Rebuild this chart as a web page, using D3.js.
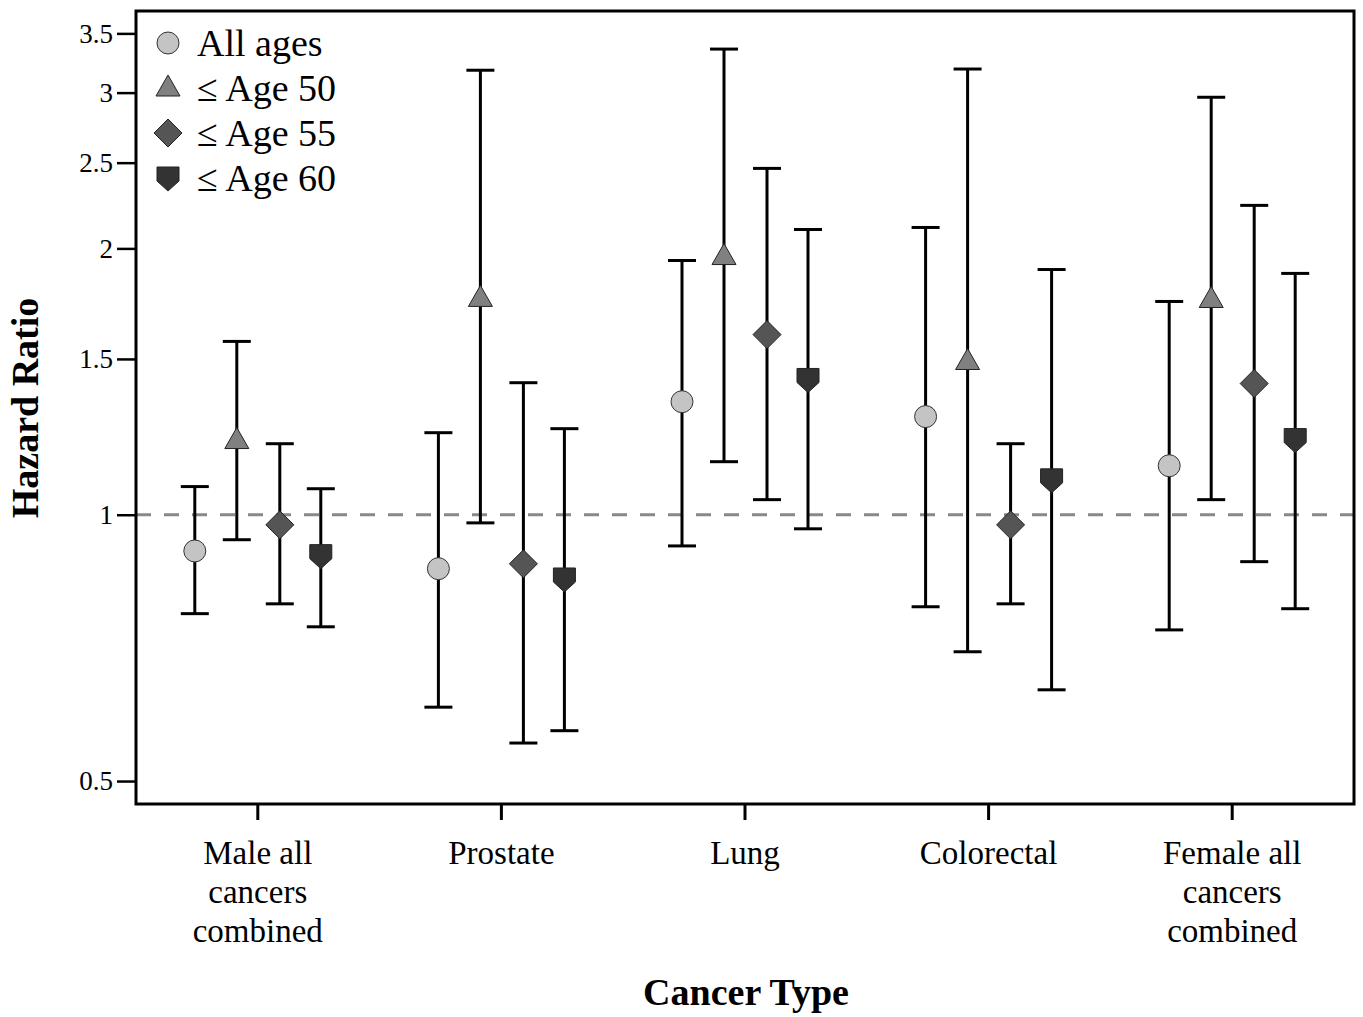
<!DOCTYPE html>
<html>
<head>
<meta charset="utf-8">
<script src="https://cdn.jsdelivr.net/npm/d3@7"></script>
<style>
  body { margin: 0; background: #fff; }
  text { font-family: "Liberation Serif", "Times New Roman", serif; fill: #000; }
</style>
</head>
<body>
<div id="chart"></div>
<script>
// categories and series
var categories = ["Male all cancers combined", "Prostate", "Lung", "Colorectal", "Female all cancers combined"];
var categoryLines = [["Male all", "cancers", "combined"], ["Prostate"], ["Lung"], ["Colorectal"], ["Female all", "cancers", "combined"]];
var seriesNames = ["All ages", "\u2264 Age 50", "\u2264 Age 55", "\u2264 Age 60"];

// hazard ratio point estimates, per series, per category
var hrAll   = [0.910, 0.869, 1.342, 1.291, 1.136];
var hr50    = [1.213, 1.756, 1.958, 1.490, 1.751];
var hr55    = [0.974, 0.880, 1.598, 0.974, 1.407];
var hr60    = [0.899, 0.846, 1.422, 1.095, 1.216];
// lower / upper confidence limits
var loAll = [0.773, 0.606, 0.922, 0.787, 0.741];
var upAll = [1.076, 1.238, 1.938, 2.112, 1.742];
var lo50  = [0.937, 0.979, 1.148, 0.700, 1.040];
var up50  = [1.570, 3.180, 3.360, 3.190, 2.964];
var lo55  = [0.793, 0.552, 1.040, 0.793, 0.885];
var up55  = [1.203, 1.410, 2.463, 1.203, 2.237];
var lo60  = [0.747, 0.570, 0.964, 0.634, 0.783];
var up60  = [1.070, 1.251, 2.101, 1.893, 1.874];

var yTicks = [0.5, 1, 1.5, 2, 2.5, 3, 3.5];

var svgWidth = 1363;
var svgHeight = 1017;
var margin = { top: 11, right: 10, bottom: 213, left: 136 };
var width = 1354 - margin.left;
var height = 804 - margin.top;

var svg = d3.select("#chart")
    .append("svg")
    .attr("width", svgWidth)
    .attr("height", svgHeight);

var chartGroup = svg.append("g")
    .attr("transform", `translate(${margin.left}, ${margin.top})`);

// scales
var xScale = d3.scaleBand()
    .domain(categories)
    .range([0, width]);
var offsets = [-63, -21, 22, 63];

var yScale = d3.scaleLog()
    .domain([0.471, 3.71])
    .range([height, 0]);

// reference line at HR = 1
chartGroup.append("line")
    .attr("x1", 0)
    .attr("x2", width)
    .attr("y1", yScale(1))
    .attr("y2", yScale(1))
    .attr("stroke", "#888")
    .attr("stroke-width", 3)
    .attr("stroke-dasharray", "15,13");

// build data rows
var styles = [
    { fill: "#c4c4c4", shape: "circle" },
    { fill: "#808080", shape: "triangle" },
    { fill: "#555555", shape: "diamond" },
    { fill: "#333333", shape: "shield" }
];
var hrs = [hrAll, hr50, hr55, hr60];
var los = [loAll, lo50, lo55, lo60];
var ups = [upAll, up50, up55, up60];

var rows = [];
categories.forEach(function (c, ci) {
    seriesNames.forEach(function (s, si) {
        rows.push({ cat: c, s: si, hr: hrs[si][ci], lo: los[si][ci], up: ups[si][ci] });
    });
});

function cx(d) { return xScale(d.cat) + xScale.bandwidth() / 2 + offsets[d.s]; }

function markerPath(shape) {
    if (shape === "triangle") return "M0,-13L12,8L-12,8Z";
    if (shape === "diamond") return "M0,-14L14,0L0,14L-14,0Z";
    if (shape === "shield") return "M-11,-11L11,-11L11,3L0,13L-11,3Z";
    return null;
}

var bars = chartGroup.selectAll(".bar")
    .data(rows)
    .enter()
    .append("g")
    .attr("class", "bar");

bars.append("line")
    .attr("x1", cx).attr("x2", cx)
    .attr("y1", d => yScale(d.lo))
    .attr("y2", d => yScale(d.up))
    .attr("stroke", "#000").attr("stroke-width", 3);
bars.append("line")
    .attr("x1", d => cx(d) - 14).attr("x2", d => cx(d) + 14)
    .attr("y1", d => yScale(d.lo)).attr("y2", d => yScale(d.lo))
    .attr("stroke", "#000").attr("stroke-width", 3);
bars.append("line")
    .attr("x1", d => cx(d) - 14).attr("x2", d => cx(d) + 14)
    .attr("y1", d => yScale(d.up)).attr("y2", d => yScale(d.up))
    .attr("stroke", "#000").attr("stroke-width", 3);

function drawMarker(sel, si) {
    var st = styles[si];
    if (st.shape === "circle") {
        sel.append("circle").attr("r", 11)
            .attr("fill", st.fill).attr("stroke", "#333").attr("stroke-width", 1);
    } else {
        sel.append("path").attr("d", markerPath(st.shape))
            .attr("fill", st.fill).attr("stroke", "#222").attr("stroke-width", 1);
    }
}

bars.each(function (d) {
    var g = d3.select(this).append("g")
        .attr("transform", `translate(${cx(d)}, ${yScale(d.hr)})`);
    drawMarker(g, d.s);
});

// frame
chartGroup.append("rect")
    .attr("x", 0).attr("y", 0)
    .attr("width", width).attr("height", height)
    .attr("fill", "none").attr("stroke", "#000").attr("stroke-width", 3);

// axes
var leftAxis = d3.axisLeft(yScale)
    .tickValues(yTicks)
    .tickFormat(d3.format("~g"))
    .tickSize(18)
    .tickPadding(5);
var yAxisG = chartGroup.append("g").call(leftAxis);
yAxisG.select(".domain").remove();
yAxisG.selectAll("line").attr("stroke-width", 2.5).attr("transform", "translate(-1,0)");
yAxisG.selectAll("text")
    .attr("font-family", "Liberation Serif, serif")
    .attr("font-size", 27)
    .style("font-size", "27px");

var bottomAxis = d3.axisBottom(xScale).tickSize(16).tickFormat("");
var xAxisG = chartGroup.append("g")
    .attr("transform", `translate(0, ${height})`)
    .call(bottomAxis);
xAxisG.select(".domain").remove();
xAxisG.selectAll("line").attr("stroke-width", 3);

// category labels
categories.forEach(function (c, ci) {
    var t = chartGroup.append("text")
        .attr("x", xScale(c) + xScale.bandwidth() / 2)
        .attr("y", height + 60)
        .attr("text-anchor", "middle")
        .style("font-size", "33px");
    categoryLines[ci].forEach(function (line, li) {
        t.append("tspan")
            .attr("x", xScale(c) + xScale.bandwidth() / 2)
            .attr("dy", li === 0 ? 0 : 39)
            .text(line);
    });
});

// axis titles
svg.append("text")
    .attr("transform", `translate(38, 408) rotate(-90)`)
    .attr("text-anchor", "middle")
    .style("font-size", "38px")
    .style("font-weight", "bold")
    .text("Hazard Ratio");

svg.append("text")
    .attr("x", 746)
    .attr("y", 1005)
    .attr("text-anchor", "middle")
    .style("font-size", "38px")
    .style("font-weight", "bold")
    .text("Cancer Type");

// legend
var legend = svg.append("g");
seriesNames.forEach(function (s, si) {
    var y = 43 + si * 45;
    var g = legend.append("g").attr("transform", `translate(168, ${y})`);
    drawMarker(g, si);
    legend.append("text")
        .attr("x", 197)
        .attr("y", y + 13)
        .style("font-size", "38px")
        .text(s);
});
</script>
</body>
</html>
